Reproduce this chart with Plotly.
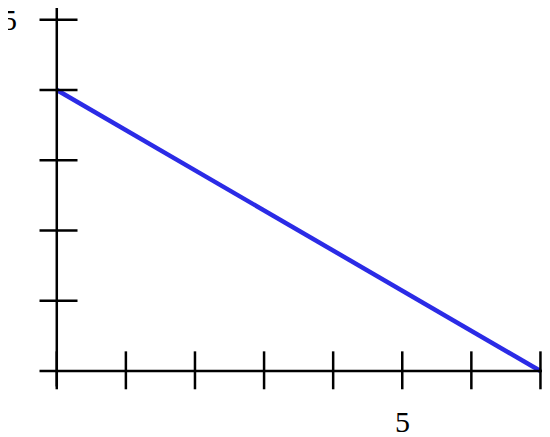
import plotly.graph_objects as go

# line data
line_x = [0, 7]
line_y = [4, 0]

x_ticks = [0, 1, 2, 3, 4, 5, 6, 7]
y_ticks = [1, 2, 3, 4, 5]
x_label_ticks = [5]
y_label_ticks = [5]

fig = go.Figure()
fig.add_trace(go.Scatter(x=line_x, y=line_y, mode='lines',
                         line=dict(color='#2b2be6', width=4.5), showlegend=False))

shapes = []
# axes
shapes.append(dict(type='line', x0=-0.25, x1=7.4, y0=0, y1=0, line=dict(color='black', width=2.5)))
shapes.append(dict(type='line', x0=0, x1=0, y0=-0.22, y1=5.4, line=dict(color='black', width=2.5)))
# crossing tick marks
for t in x_ticks:
    shapes.append(dict(type='line', x0=t, x1=t, y0=-0.26, y1=0.28, line=dict(color='black', width=2.5)))
for t in y_ticks:
    shapes.append(dict(type='line', x0=-0.25, x1=0.3, y0=t, y1=t, line=dict(color='black', width=2.5)))

serif = 'Liberation Serif, DejaVu Serif, serif'
annotations = []
for t in x_label_ticks:
    annotations.append(dict(x=t, y=-0.72, text=str(t), showarrow=False,
                            font=dict(family=serif, size=30, color='black')))
for t in y_label_ticks:
    annotations.append(dict(x=-0.68, y=t, text=str(t), showarrow=False,
                            font=dict(family=serif, size=30, color='black')))

fig.update_layout(
    width=550, height=437,
    margin=dict(l=0, r=0, t=0, b=0),
    plot_bgcolor='white', paper_bgcolor='white',
    shapes=shapes, annotations=annotations,
    xaxis=dict(range=[-0.706, 7.254], visible=False, fixedrange=True),
    yaxis=dict(range=[-1.053, 5.167], visible=False, fixedrange=True),
)
fig.write_html("out.html")
